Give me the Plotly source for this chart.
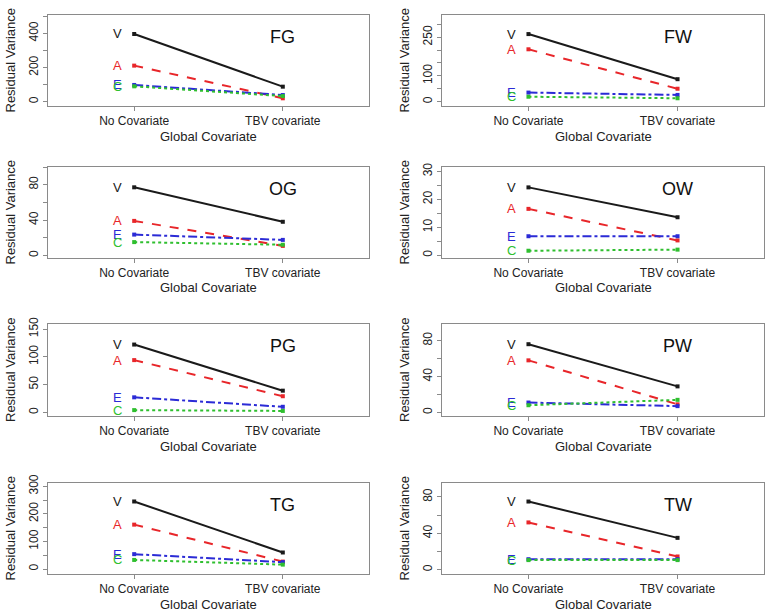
import plotly.graph_objects as go

# panels, in reading order (left-right, top-bottom)
panels = ["FG", "FW", "OG", "OW", "PG", "PW", "TG", "TW"]
conditions = ["No Covariate", "TBV covariate"]

# residual variance components: [no covariate, TBV covariate] per panel
v_vals = [[396, 88], [262, 87], [77, 38], [24.3, 13.6], [122, 39], [76, 29], [245, 60], [75, 35]]
a_vals = [[211, 20], [203, 50], [39, 10.7], [16.6, 5.3], [94, 29], [58, 9], [161, 27], [52, 14.5]]
e_vals = [[98, 39], [35, 26], [23.5, 17.5], [6.8, 6.8], [27, 10], [11, 7], [54, 25], [11.5, 11.5]]
c_vals = [[90, 33], [19, 13], [15, 12], [1.6, 2.0], [4, 2.5], [8, 14], [33, 16], [10.5, 10.5]]

# y axis ranges, tick positions and tick labels ("" = unlabelled tick)
y_ranges = [[-25, 507], [-17, 336], [-3, 100], [-1, 31.6], [-6.6, 159], [-4, 98.5], [-18, 312], [-4.8, 95.4]]
y_ticks = [
    [0, 100, 200, 300, 400, 500],
    [0, 50, 100, 150, 200, 250, 300],
    [0, 20, 40, 60, 80, 100],
    [0, 5, 10, 15, 20, 25, 30],
    [0, 50, 100, 150],
    [0, 20, 40, 60, 80],
    [0, 50, 100, 150, 200, 250, 300],
    [0, 20, 40, 60, 80],
]
y_labels = [
    ["0", "", "200", "", "400", ""],
    ["0", "", "100", "", "", "250", ""],
    ["0", "", "40", "", "80", ""],
    ["0", "", "10", "", "20", "", "30"],
    ["0", "50", "100", "150"],
    ["0", "", "40", "", "80"],
    ["0", "", "100", "", "200", "", "300"],
    ["0", "", "40", "", "80"],
]

series = [
    ("V", v_vals, "#1a1a1a", "solid"),
    ("A", a_vals, "#e8262a", "dash"),
    ("E", e_vals, "#2b2bd6", "dashdot"),
    ("C", c_vals, "#2fbf2f", "dot"),
]

W, H = 768, 616
# plot boxes in pixels
col_x = [(48, 369), (442, 764)]
row_y = [(15, 106), (167, 258), (324, 416), (483, 574)]

FONT = "Liberation Sans, Arial, sans-serif"
FRAME = "#8a8a8a"

fig = go.Figure()
layout = {}
annotations = []

for i, name in enumerate(panels):
    r, c = divmod(i, 2)
    x0, x1 = col_x[c]
    y0, y1 = row_y[r]
    n = "" if i == 0 else str(i + 1)
    xa, ya = "x" + n, "y" + n

    layout["xaxis" + n] = dict(
        domain=[x0 / W, x1 / W], anchor=ya, range=[0.42, 2.58], automargin=False,
        tickvals=[1, 2], ticktext=conditions, ticks="outside", ticklen=4,
        tickcolor=FRAME, showline=True, linecolor=FRAME, linewidth=1, mirror=True,
        showgrid=False, zeroline=False, tickfont=dict(size=12, color="#222"),
    )
    layout["yaxis" + n] = dict(
        domain=[1 - y1 / H, 1 - y0 / H], anchor=xa, range=y_ranges[i], automargin=False,
        tickvals=y_ticks[i], ticktext=y_labels[i], tickangle=-90,
        ticks="outside", ticklen=4, tickcolor=FRAME,
        showline=True, linecolor=FRAME, linewidth=1, mirror=True,
        showgrid=False, zeroline=False, tickfont=dict(size=12, color="#222"),
    )

    for label, vals, color, dash in series:
        fig.add_trace(go.Scatter(
            x=[1, 2], y=vals[i], xaxis=xa, yaxis=ya,
            mode="lines+markers",
            line=dict(color=color, width=2, dash=dash),
            marker=dict(symbol="square", size=4, color=color),
            showlegend=False, hoverinfo="skip",
        ))
        annotations.append(dict(
            x=1, y=vals[i][0], xref=xa, yref=ya, xshift=-17,
            text=label, showarrow=False,
            font=dict(family=FONT, size=13, color=color),
        ))

    # panel name
    annotations.append(dict(
        x=2, y=1, xref=xa, yref=ya + " domain", yshift=-22,
        text=name, showarrow=False, yanchor="middle",
        font=dict(family=FONT, size=18, color="#111"),
    ))
    # axis titles
    annotations.append(dict(
        x=0.5, y=0, xref=xa + " domain", yref=ya + " domain", yshift=-30,
        text="Global Covariate", showarrow=False, yanchor="middle",
        font=dict(family=FONT, size=13, color="#222"),
    ))
    annotations.append(dict(
        x=0, y=0.5, xref=xa + " domain", yref=ya + " domain", xshift=-38,
        text="Residual Variance", showarrow=False, textangle=-90, xanchor="center",
        font=dict(family=FONT, size=13, color="#222"),
    ))

fig.update_layout(
    width=W, height=H,
    margin=dict(l=0, r=0, t=0, b=0),
    plot_bgcolor="white", paper_bgcolor="white",
    font=dict(family=FONT),
    annotations=annotations,
    **layout,
)

# drop the default body margin so the figure fills the window exactly
fig.write_html(
    "out.html",
    config={"displayModeBar": False},
    post_script="document.body.style.margin = '0';",
)
